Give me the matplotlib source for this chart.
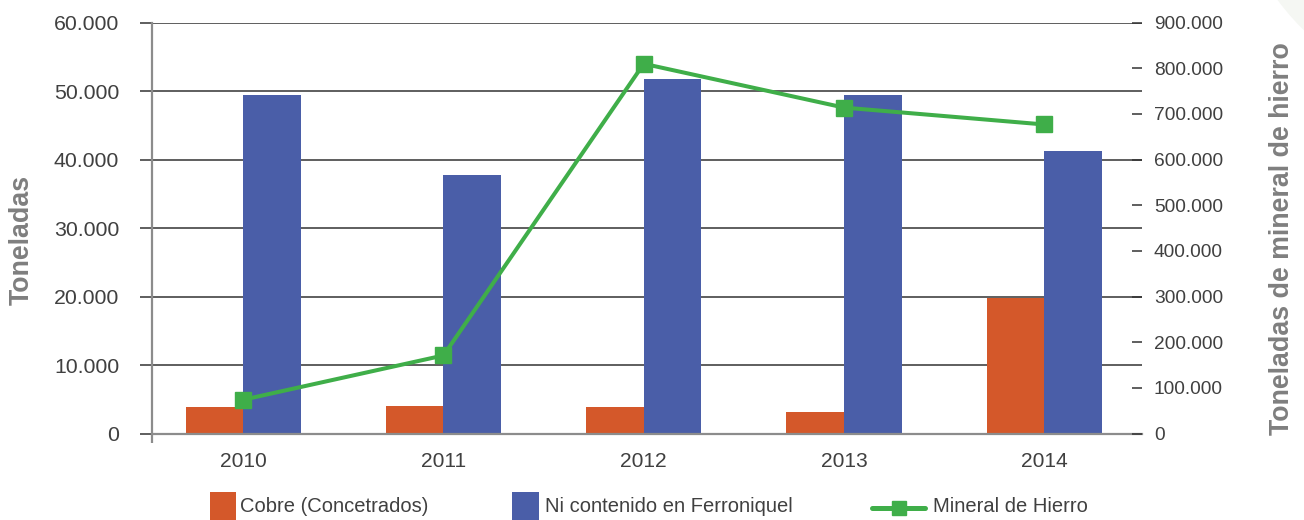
import matplotlib
matplotlib.use("Agg")
import matplotlib.pyplot as plt
from matplotlib import font_manager
from matplotlib.patches import Rectangle, Circle
from matplotlib.lines import Line2D
from matplotlib.ticker import FuncFormatter, FixedLocator

# ---- data ----
years = ["2010", "2011", "2012", "2013", "2014"]
cobre = [3870, 4000, 3900, 3150, 19800]
ni = [49500, 37750, 51800, 49400, 41300]
hierro = [74000, 171000, 810000, 714000, 677000]

left_ticks = [0, 10000, 20000, 30000, 40000, 50000, 60000]
right_ticks = [0, 100000, 200000, 300000, 400000, 500000, 600000, 700000, 800000, 900000]

series_names = ["Cobre (Concetrados)", "Ni contenido en Ferroniquel", "Mineral de Hierro"]

# ---- style ----
C_OR = "#D4582A"
C_BL = "#4A5EA8"
C_GR = "#3FAE49"
C_TXT = "#404040"
C_LAB = "#7F7F7F"
C_AX = "#8C8C8C"
C_GRID = "#333333"

def has_font(name):
    try:
        font_manager.findfont(font_manager.FontProperties(family=name), fallback_to_default=False)
        return True
    except Exception:
        return False

NARROW = "Liberation Sans Narrow" if has_font("Liberation Sans Narrow") else None
BASE = "Liberation Sans" if has_font("Liberation Sans") else "DejaVu Sans"
TICKF = NARROW or BASE
scale = 1.0 if NARROW else 0.9

plt.rcParams["font.family"] = [BASE, "DejaVu Sans"]

W, H = 1304, 520
fig = plt.figure(figsize=(W / 100, H / 100), dpi=100)

# faint background decoration top-right
fig.patches.append(Circle((14.8, 6.7), 2.52, transform=fig.dpi_scale_trans,
                          facecolor="#F5F7F3", edgecolor="none", zorder=0))

L, R, T, B = 151.7, 1142.0, 22.7, 433.5
ax1 = fig.add_axes([L / W, 1 - B / H, (R - L) / W, (B - T) / H])
ax1.set_facecolor("none")
ax2 = ax1.twinx()

x = list(range(len(years)))
bw = 0.288
ax1.bar([i - bw for i in x], cobre, width=bw, align="edge", color=C_OR, zorder=2)
ax1.bar(x, ni, width=bw, align="edge", color=C_BL, zorder=2)

ax2.plot(x, hierro, color=C_GR, lw=2.9, marker="s", markersize=11,
         markerfacecolor=C_GR, markeredgecolor=C_GR, zorder=5)

xl = (-0.457, 4.488)
ax1.set_xlim(*xl)
ax1.set_ylim(0, 60000)
ax2.set_ylim(0, 900000)

fmt = FuncFormatter(lambda v, p: "0" if v == 0 else f"{int(v):,}".replace(",", "."))

# left axis
ax1.yaxis.set_major_locator(FixedLocator(left_ticks))
ax1.yaxis.set_major_formatter(fmt)
ax1.set_axisbelow(True)
ax1.grid(axis="y", color=C_GRID, lw=1.1, zorder=0)
ax1.tick_params(axis="y", direction="out", length=8.4, width=1.1, color=C_GRID,
                pad=15, labelsize=17.0 * scale, labelcolor=C_TXT)
for lab in ax1.get_yticklabels():
    lab.set_family(TICKF)

ax1.set_xticks(x)
ax1.set_xticklabels(years)
ax1.tick_params(axis="x", length=0, pad=13, labelsize=16.8 * scale, labelcolor=C_TXT)
for lab in ax1.get_xticklabels():
    lab.set_family(TICKF)
ax1.xaxis.set_minor_locator(FixedLocator([xl[0]]))
ax1.tick_params(axis="x", which="minor", direction="out", length=6.8, width=1.6, color=C_AX)

for s in ["top", "right"]:
    ax1.spines[s].set_visible(False)
for s in ["left", "bottom"]:
    ax1.spines[s].set_color(C_AX)
    ax1.spines[s].set_linewidth(1.6)
    ax1.spines[s].set_zorder(3)

# right axis
for s in ax2.spines.values():
    s.set_visible(False)
ax2.yaxis.set_major_locator(FixedLocator(right_ticks))
ax2.yaxis.set_major_formatter(fmt)
ax2.tick_params(axis="y", direction="in", length=7, width=1.1, color=C_GRID,
                pad=8.5, labelsize=15.3 * scale, labelcolor=C_TXT)
for lab in ax2.get_yticklabels():
    lab.set_family(TICKF)

# axis titles
fig.text(21.7 / W, 1 - 239.5 / H, "Toneladas", rotation=90, ha="center", va="center",
         fontsize=19.3, fontweight="bold", color=C_LAB)
fig.text(1282 / W, 1 - 239 / H, "Toneladas de mineral de hierro", rotation=90,
         ha="center", va="center", fontsize=19.3, fontweight="bold", color=C_LAB)

# legend (manual, pixel positions)
def px(xp, yp):
    return xp / W, 1 - yp / H

ly = 506.0
fig.patches.append(Rectangle(px(210, 520), 26 / W, 28 / H, transform=fig.transFigure,
                             facecolor=C_OR, edgecolor="none"))
fig.text(*px(240.5, ly), series_names[0], ha="left", va="center", fontsize=14.5, color=C_TXT)
fig.patches.append(Rectangle(px(512, 520), 27 / W, 28 / H, transform=fig.transFigure,
                             facecolor=C_BL, edgecolor="none"))
fig.text(*px(545, ly), series_names[1], ha="left", va="center", fontsize=14.5, color=C_TXT)
fig.lines.append(Line2D([872 / W, 925 / W], [1 - 508 / H, 1 - 508 / H], transform=fig.transFigure,
                        color=C_GR, lw=3.6, solid_capstyle="round"))
fig.lines.append(Line2D([898.5 / W], [1 - 508 / H], transform=fig.transFigure,
                        color=C_GR, marker="s", markersize=10, lw=0))
fig.text(*px(933, ly), series_names[2], ha="left", va="center", fontsize=14.5, color=C_TXT)

fig.savefig("out.png", dpi=100)
